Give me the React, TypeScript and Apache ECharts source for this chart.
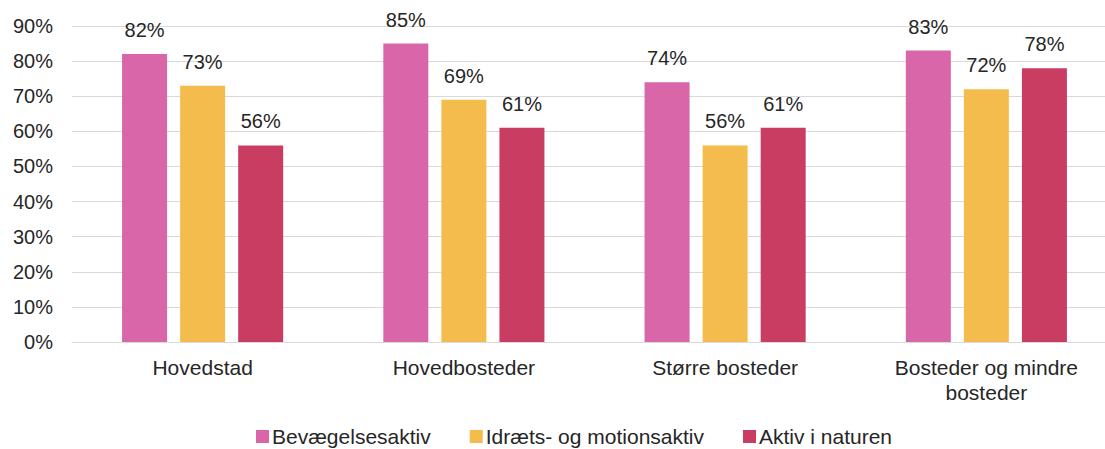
import React, { useEffect, useRef } from "react";
import * as echarts from "echarts";

const categories = ["Hovedstad", "Hovedbosteder", "Større bosteder", "Bosteder og mindre\nbosteder"];
const seriesNames = ["Bevægelsesaktiv", "Idræts- og motionsaktiv", "Aktiv i naturen"];
const bevaegelse = [82, 85, 74, 83];
const idraet = [73, 69, 56, 72];
const natur = [56, 61, 61, 78];
const colors = ["#D866A8", "#F4BC4D", "#C93D63"];

const FONT = "'Liberation Sans', Arial, sans-serif";
const TEXT = "#262626";

export default function App() {
  const ref = useRef<HTMLDivElement>(null);
  useEffect(() => {
    if (!ref.current) return;
    const chart = echarts.init(ref.current, null, { renderer: "svg" });
    const data = [bevaegelse, idraet, natur];
    chart.setOption({
      animation: false,
      textStyle: { fontFamily: FONT },
      grid: { left: 72, right: 0, top: 26, bottom: 107, containLabel: false },
      legend: {
        data: seriesNames,
        top: 421,
        left: 251,
        icon: "rect",
        itemWidth: 13,
        itemHeight: 13,
        itemGap: 39,
        textStyle: { fontSize: 21, color: TEXT, fontFamily: FONT, padding: [0, 0, 0, -2] },
      },
      xAxis: {
        type: "category",
        data: categories,
        axisLine: { lineStyle: { color: "#D9D9D9" } },
        axisTick: { show: false },
        axisLabel: { interval: 0, fontSize: 21, color: TEXT, margin: 13, lineHeight: 25, fontFamily: FONT },
      },
      yAxis: {
        type: "value",
        min: 0,
        max: 90,
        interval: 10,
        axisLine: { show: false },
        axisTick: { show: false },
        axisLabel: { formatter: "{value}%", fontSize: 20, color: TEXT, margin: 19, fontFamily: FONT },
        splitLine: { lineStyle: { color: "#D9D9D9", width: 1 } },
      },
      series: seriesNames.map((name, i) => ({
        name,
        type: "bar",
        data: data[i],
        barWidth: 45,
        barGap: "29%",
        itemStyle: { color: colors[i] },
        label: {
          show: true,
          position: "top",
          distance: 14,
          formatter: "{c}%",
          fontSize: 20,
          color: TEXT,
          fontFamily: FONT,
        },
      })),
    });
    return () => chart.dispose();
  }, []);
  return (
    <div style={{ position: "absolute", left: 0, top: 0, width: 1105, height: 449, overflow: "hidden" }}>
      <div ref={ref} style={{ width: 1117, height: 449 }} />
    </div>
  );
}
